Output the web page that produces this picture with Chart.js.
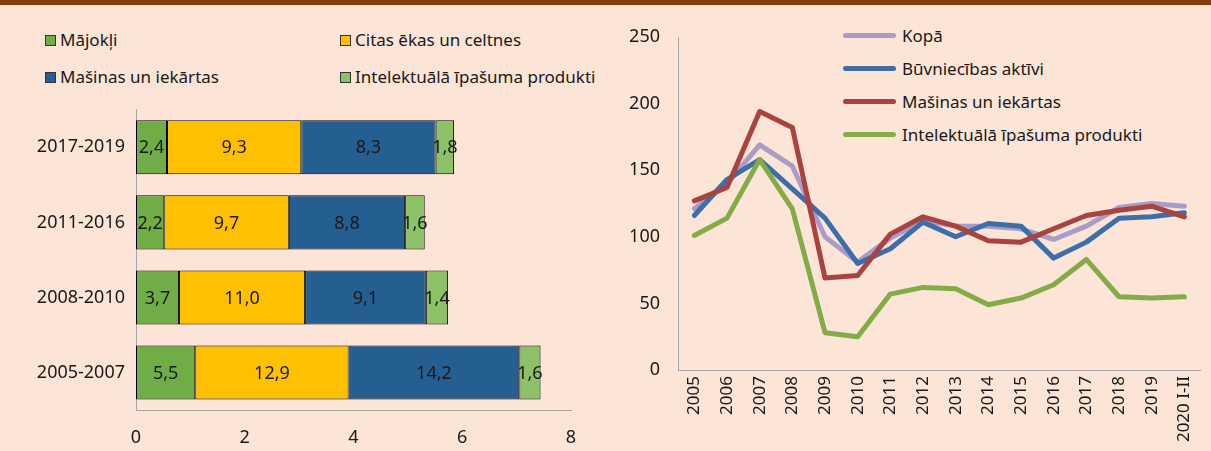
<!DOCTYPE html>
<html>
<head>
<meta charset="utf-8">
<script src="https://cdn.jsdelivr.net/npm/chart.js@4/dist/chart.umd.min.js"></script>
<style>
  html, body { margin:0; padding:0; }
  body {
    width:1211px; height:451px; position:relative; overflow:hidden;
    background:#FCE4D6;
    font-family:"Noto Sans", "Open Sans", sans-serif;
    color:#1a1a1a;
  }
  .topbar { position:absolute; left:0; top:0; width:1211px; height:5px; background:#843C0C; }
  canvas { position:absolute; }
  #chartShares { left:0; top:88px; }
  #chartIndex { left:610px; top:0; }
  .legend-item { position:absolute; font-size:17px; line-height:20px; white-space:nowrap; }
  .box { display:inline-block; width:9px; height:9px; border:1px solid #333; margin-right:4px; vertical-align:0px; }
  .line-item { position:absolute; font-size:17px; line-height:20px; white-space:nowrap; }
  .swatch { display:inline-block; width:53px; height:5px; border-radius:3px; margin-right:6px; vertical-align:4px; }
</style>
</head>
<body>
<div class="topbar"></div>

<div class="legend-item" style="left:45px; top:30px;"><span class="box" style="background:#70AD47"></span>Mājokļi</div>
<div class="legend-item" style="left:340px; top:30px;"><span class="box" style="background:#FFC000"></span>Citas ēkas un celtnes</div>
<div class="legend-item" style="left:45px; top:67px;"><span class="box" style="background:#255E91"></span>Mašinas un iekārtas</div>
<div class="legend-item" style="left:340px; top:67px;"><span class="box" style="background:#8CC168"></span>Intelektuālā īpašuma produkti</div>

<div class="line-item" style="left:843px; top:26px;"><span class="swatch" style="background:#A99CC6"></span>Kopā</div>
<div class="line-item" style="left:843px; top:59px;"><span class="swatch" style="background:#3C6EAA"></span>Būvniecības aktīvi</div>
<div class="line-item" style="left:843px; top:92px;"><span class="swatch" style="background:#AA4240"></span>Mašinas un iekārtas</div>
<div class="line-item" style="left:843px; top:125px;"><span class="swatch" style="background:#83AC48"></span>Intelektuālā īpašuma produkti</div>

<canvas id="chartShares" width="600" height="363"></canvas>
<canvas id="chartIndex" width="601" height="451"></canvas>

<script>
/* left: structure, bar lengths and printed shares */
const periods = ["2017-2019", "2011-2016", "2008-2010", "2005-2007"];
const majokli = [0.57, 0.52, 0.79, 1.09];
const citasEkas = [2.47, 2.29, 2.32, 2.82];
const masinas = [2.47, 2.14, 2.22, 3.14];
const intelekt = [0.34, 0.36, 0.41, 0.39];
const majokliLbl = ["2,4", "2,2", "3,7", "5,5"];
const citasEkasLbl = ["9,3", "9,7", "11,0", "12,9"];
const masinasLbl = ["8,3", "8,8", "9,1", "14,2"];
const intelektLbl = ["1,8", "1,6", "1,4", "1,6"];
const shareTicks = [0, 2, 4, 6, 8];

/* right: index lines */
const years = ["2005", "2006", "2007", "2008", "2009", "2010", "2011", "2012", "2013", "2014", "2015", "2016", "2017", "2018", "2019", "2020 I-II"];
const kopa = [121, 140, 169, 153, 100, 81, 99, 112, 108, 108, 106, 98, 108, 122, 125, 123];
const buvniecibas = [116, 143, 158, 136, 114, 80, 91, 111, 100, 110, 108, 84, 96, 114, 115, 118];
const masinasIdx = [127, 137, 194, 182, 69, 71, 102, 115, 108, 97, 96, 106, 116, 120, 123, 115];
const intelektIdx = [101, 114, 158, 121, 28, 25, 57, 62, 61, 49, 54, 64, 83, 55, 54, 55];

const FONT = "'Noto Sans', 'Open Sans', sans-serif";
const TXT = "#1a1a1a";
const AXIS = "#A6A6A6";

const segLabels = {
    id: "segLabels",
    afterDatasetsDraw(chart) {
        const ctx = chart.ctx;
        ctx.save();
        ctx.font = "18px " + FONT;
        ctx.fillStyle = TXT;
        ctx.textAlign = "center";
        ctx.textBaseline = "middle";
        chart.data.datasets.forEach((ds, i) => {
            const meta = chart.getDatasetMeta(i);
            meta.data.forEach((bar, j) => {
                const cx = (bar.x + bar.base) / 2;
                ctx.fillText(ds.labelsText[j], cx, bar.y + 1);
            });
        });
        ctx.restore();
    }
};

function buildSharesChart() {

    const ctx = document.getElementById("chartShares").getContext("2d");

    const mk = (label, data, txt, color) => ({
        label: label,
        data: data,
        labelsText: txt,
        backgroundColor: color,
        borderColor: "#000",
        borderWidth: 1,
        borderSkipped: false,
        barPercentage: 0.72,
        categoryPercentage: 1
    });

    new Chart(ctx, {
        type: "bar",
        data: {
            labels: periods,
            datasets: [
                mk("Mājokļi", majokli, majokliLbl, "#70AD47"),
                mk("Citas ēkas un celtnes", citasEkas, citasEkasLbl, "#FFC000"),
                mk("Mašinas un iekārtas", masinas, masinasLbl, "#255E91"),
                mk("Intelektuālā īpašuma produkti", intelekt, intelektLbl, "#8CC168")
            ]
        },
        options: {
            indexAxis: "y",
            responsive: false,
            animation: false,
            devicePixelRatio: 1,
            layout: { padding: { top: 0, right: 29, left: 0, bottom: 0 } },
            plugins: { legend: { display: false }, tooltip: { enabled: false } },
            scales: {
                x: {
                    stacked: true,
                    min: shareTicks[0],
                    max: shareTicks[shareTicks.length - 1],
                    afterBuildTicks: (s) => { s.ticks = shareTicks.map(v => ({ value: v })); },
                    grid: { display: false, drawTicks: false },
                    border: { display: true, color: AXIS, width: 1 },
                    ticks: { padding: 17, color: TXT, font: { size: 18, family: FONT } },
                    afterFit: (s) => { s.height = 41; }
                },
                y: {
                    stacked: true,
                    grid: { display: false, drawTicks: false },
                    border: { display: true, color: AXIS, width: 1 },
                    ticks: { padding: 11, color: TXT, font: { size: 18, family: FONT } },
                    afterFit: (s) => { s.width = 136; }
                }
            }
        },
        plugins: [segLabels]
    });

}

function buildIndexChart() {

    const ctx = document.getElementById("chartIndex").getContext("2d");

    const mk = (label, data, color, order) => ({
        label: label,
        data: data,
        borderColor: color,
        backgroundColor: color,
        borderWidth: 5,
        tension: 0,
        pointRadius: 0,
        borderJoinStyle: "round",
        borderCapStyle: "round",
        fill: false,
        order: order
    });

    new Chart(ctx, {
        type: "line",
        data: {
            labels: years,
            datasets: [
                mk("Kopā", kopa, "#A99CC6", 4),
                mk("Būvniecības aktīvi", buvniecibas, "#3C6EAA", 3),
                mk("Mašinas un iekārtas", masinasIdx, "#AA4240", 2),
                mk("Intelektuālā īpašuma produkti", intelektIdx, "#83AC48", 1)
            ]
        },
        options: {
            responsive: false,
            animation: false,
            devicePixelRatio: 1,
            layout: { padding: { top: 37, right: 8, left: 0, bottom: 0 } },
            plugins: { legend: { display: false }, tooltip: { enabled: false } },
            scales: {
                x: {
                    offset: true,
                    grid: { display: false, drawTicks: false },
                    border: { display: true, color: AXIS, width: 1 },
                    ticks: {
                        minRotation: 90, maxRotation: 90, autoSkip: false,
                        padding: 6, color: TXT, font: { size: 17, family: FONT }
                    },
                    afterFit: (s) => { s.height = 81; }
                },
                y: {
                    min: 0,
                    max: 250,
                    ticks: { stepSize: 50, padding: 18, color: TXT, font: { size: 18, family: FONT } },
                    grid: { display: false, drawTicks: false },
                    border: { display: true, color: AXIS, width: 1 },
                    afterFit: (s) => { s.width = 68; }
                }
            }
        }
    });

}

buildSharesChart();
buildIndexChart();
</script>
</body>
</html>
